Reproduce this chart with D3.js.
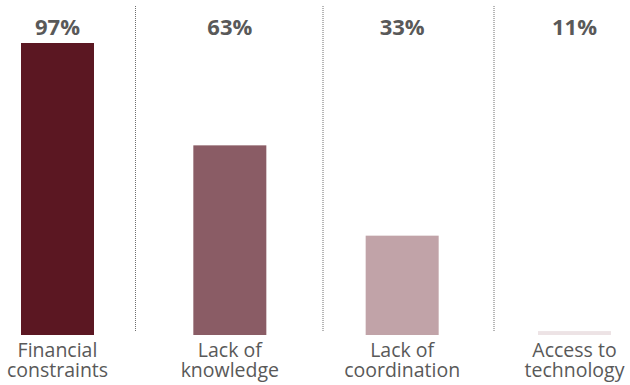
<!DOCTYPE html>
<html>
<head>
<meta charset="utf-8">
<script src="https://cdn.jsdelivr.net/npm/d3@7"></script>
<style>
  body { margin: 0; background: #fff; }
  text { font-family: "Open Sans", "Noto Sans", sans-serif; fill: #595959; }
</style>
</head>
<body>
<div id="chart"></div>
<script>
// chart data
var categories = ["Financial constraints", "Lack of knowledge", "Lack of coordination", "Access to technology"];
var labelLines = [["Financial", "constraints"], ["Lack of", "knowledge"], ["Lack of", "coordination"], ["Access to", "technology"]];
var shares = [97, 63, 33, 11];          // value printed above each column
var barHeights = [97, 63, 33, 1.3];     // drawn bar size
var barColors = ["#5b1722", "#8a5c65", "#c1a3a8", "#ede3e5"];

var svgWidth = 630;
var svgHeight = 385;

var svg = d3.select("#chart")
  .append("svg")
  .attr("width", svgWidth)
  .attr("height", svgHeight);

// scales
var xScale = d3.scalePoint()
  .domain(categories)
  .range([57.5, 574.5]);

var yScale = d3.scaleLinear()
  .domain([0, 97])
  .range([335, 43]);

var barWidth = 73;

// dotted separators between columns
var sepX = [135.5, 323, 494];
svg.selectAll("line.sep")
  .data(sepX)
  .enter()
  .append("line")
  .attr("class", "sep")
  .attr("x1", d => d)
  .attr("x2", d => d)
  .attr("y1", 6)
  .attr("y2", 331)
  .attr("stroke", "#6f6f6f")
  .attr("stroke-width", 1)
  .attr("stroke-dasharray", "1,1");

// bars
svg.selectAll("rect.bar")
  .data(categories)
  .enter()
  .append("rect")
  .attr("class", "bar")
  .attr("x", d => xScale(d) - barWidth / 2)
  .attr("y", (d, i) => yScale(barHeights[i]))
  .attr("width", barWidth)
  .attr("height", (d, i) => yScale(0) - yScale(barHeights[i]))
  .attr("fill", (d, i) => barColors[i]);

// percentages on top
svg.selectAll("text.pct")
  .data(categories)
  .enter()
  .append("text")
  .attr("class", "pct")
  .attr("x", d => xScale(d))
  .attr("y", 35)
  .attr("text-anchor", "middle")
  .style("font-size", "22px")
  .style("font-weight", "bold")
  .text((d, i) => shares[i] + "%");

// category labels, two lines each
var labelGroups = svg.selectAll("text.cat")
  .data(categories)
  .enter()
  .append("text")
  .attr("class", "cat")
  .attr("text-anchor", "middle")
  .style("font-size", "19.5px");

labelGroups.each(function(d, i) {
  var t = d3.select(this);
  labelLines[i].forEach(function(line, j) {
    t.append("tspan")
      .attr("x", xScale(d))
      .attr("y", 357 + j * 20)
      .text(line);
  });
});
</script>
</body>
</html>
